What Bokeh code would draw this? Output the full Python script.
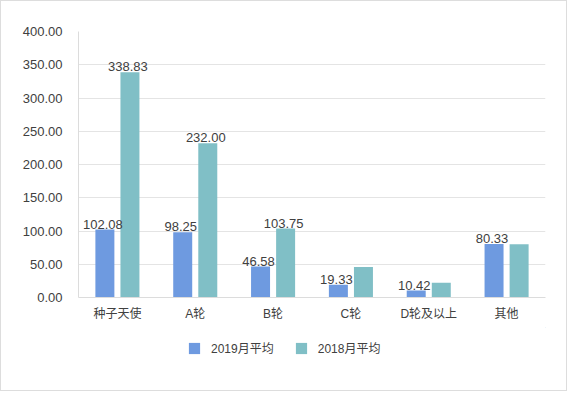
from bokeh.plotting import figure
from bokeh.layouts import column
from bokeh.models import (ColumnDataSource, FactorRange, Range1d, SingleIntervalTicker,
                          NumeralTickFormatter, LabelSet, Legend, LegendItem)
from bokeh.transform import dodge
from bokeh.core.properties import value
from bokeh.embed import file_html
from bokeh.resources import INLINE

categories = ["种子天使", "A轮", "B轮", "C轮", "D轮及以上", "其他"]
avg_2019 = [102.08, 98.25, 46.58, 19.33, 10.42, 80.33]
avg_2018 = [338.83, 232.00, 103.75, 46.0, 22.0, 80.0]
labels_2019 = ["102.08", "98.25", "46.58", "19.33", "10.42", "80.33"]
labels_2018 = ["338.83", "232.00", "103.75", "", "", ""]
series_names = ["2019月平均", "2018月平均"]

FONT = "Liberation Sans, Noto Sans CJK SC"
C2019 = "#6e9ae0"
C2018 = "#80bfc6"

src = ColumnDataSource(dict(cat=categories, v19=avg_2019, v18=avg_2018,
                            l19=labels_2019, l18=labels_2018))

p = figure(x_range=FactorRange(*categories, range_padding=0), y_range=Range1d(0, 400),
           width=565, height=326, output_backend="svg", toolbar_location=None,
           min_border_left=77, min_border_right=21, min_border_top=30, min_border_bottom=30)
p.outline_line_color = None
p.background_fill_color = "white"
p.border_fill_color = "white"

off = 0.161
w = 0.244
r19 = p.vbar(x=dodge("cat", -off, range=p.x_range), top="v19", width=w, source=src,
             fill_color=C2019, line_color=None)
r18 = p.vbar(x=dodge("cat", off, range=p.x_range), top="v18", width=w, source=src,
             fill_color=C2018, line_color=None)

for col, o in (("l19", -off), ("l18", off)):
    ls = LabelSet(x=dodge("cat", o, range=p.x_range), y="v" + col[1:], text=col, source=src,
                  text_align="center", text_baseline="alphabetic", y_offset=1, x_offset=-2,
                  text_font=value(FONT), text_font_size="13px", text_color="#404040")
    p.add_layout(ls)

p.yaxis.ticker = SingleIntervalTicker(interval=50)
p.yaxis.formatter = NumeralTickFormatter(format="0.00")
for ax in (p.xaxis[0], p.yaxis[0]):
    ax.axis_line_color = "#dcdcdc"
    ax.major_tick_line_color = None
    ax.minor_tick_line_color = None
    ax.major_label_text_font = FONT
    ax.major_label_text_color = "#404040"
p.yaxis.major_label_text_font_size = "13px"
p.yaxis.major_label_standoff = 10
p.xaxis.major_label_text_font_size = "12px"
p.xaxis.major_label_standoff = 3
p.xgrid.grid_line_color = None
p.ygrid.grid_line_color = "#e4e4e4"

# legend strip
lg = figure(width=565, height=63, output_backend="svg", toolbar_location=None,
            x_range=Range1d(0, 1), y_range=Range1d(0, 1),
            x_axis_type=None, y_axis_type=None,
            min_border_left=0, min_border_right=0, min_border_top=0, min_border_bottom=0)
lg.outline_line_color = None
lg.xgrid.grid_line_color = None
lg.ygrid.grid_line_color = None
d19 = lg.vbar(x=[5], top=[5], bottom=[4], width=0.1, fill_color=C2019, line_color=None)
d18 = lg.vbar(x=[5], top=[5], bottom=[4], width=0.1, fill_color=C2018, line_color=None)
legend = Legend(items=[LegendItem(label=series_names[0], renderers=[d19]),
                       LegendItem(label=series_names[1], renderers=[d18])],
                location=(109, 34), orientation="horizontal",
                glyph_width=14, glyph_height=14, label_height=14, label_standoff=10,
                spacing=20, padding=0, margin=0, border_line_color=None,
                background_fill_alpha=0, label_text_font=FONT, label_text_font_size="12px",
                label_text_color="#404040")
lg.add_layout(legend, "center")

layout = column(p, lg, spacing=0)
layout.styles = {"border": "1px solid #dddddd"}

open("out.html", "w").write(file_html(layout, INLINE))
